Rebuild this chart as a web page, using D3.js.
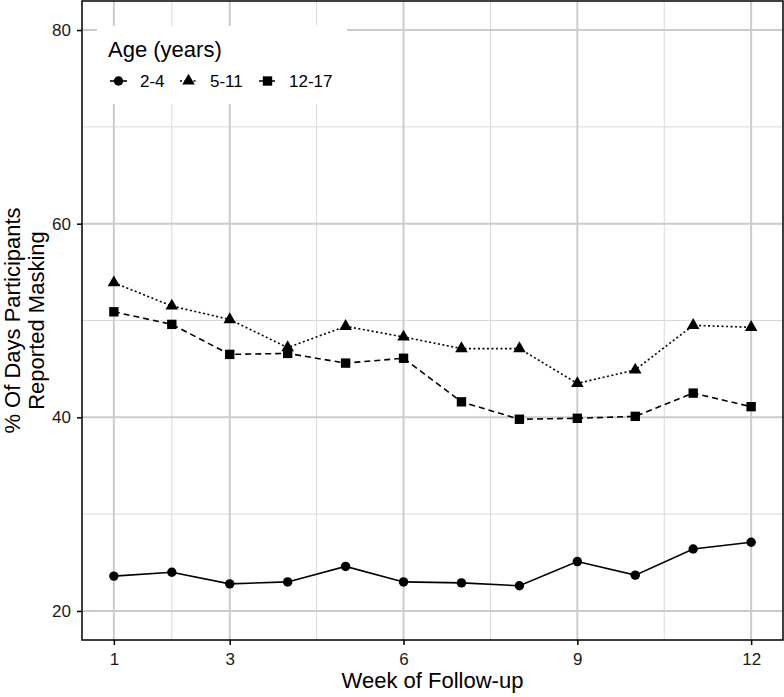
<!DOCTYPE html>
<html>
<head>
<meta charset="utf-8">
<script src="https://cdn.jsdelivr.net/npm/d3@7"></script>
<style>
  body { margin: 0; background: #fff; }
  text { font-family: "Liberation Sans", Arial, sans-serif; }
</style>
</head>
<body>
<div id="chart"></div>
<script>
const weeks = [1, 2, 3, 4, 5, 6, 7, 8, 9, 10, 11, 12];
const age2to4 = [23.6, 24.0, 22.8, 23.0, 24.6, 23.0, 22.9, 22.6, 25.1, 23.7, 26.4, 27.1];
const age5to11 = [53.9, 51.5, 50.1, 47.2, 49.4, 48.3, 47.1, 47.1, 43.5, 44.9, 49.5, 49.3];
const age12to17 = [50.9, 49.6, 46.5, 46.6, 45.6, 46.1, 41.6, 39.8, 39.9, 40.1, 42.5, 41.1];
const seriesNames = ["2-4", "5-11", "12-17"];
const xTicks = [1, 3, 6, 9, 12];
const xMinor = [2, 4.5, 7.5, 10.5];
const yTicks = [20, 40, 60, 80];
const yMinor = [30, 50, 70];

const width = 784, height = 697;
const margin = {top: 1, right: 1, bottom: 57, left: 82};
const w = width - margin.left - margin.right;
const h = height - margin.top - margin.bottom;

const svg = d3.select("#chart").append("svg")
  .attr("width", width)
  .attr("height", height);
const g = svg.append("g")
  .attr("transform", "translate(" + margin.left + "," + margin.top + ")");

const x = d3.scaleLinear().domain([0.45, 12.55]).range([0, w]);
const y = d3.scaleLinear().domain([17, 83]).range([h, 0]);

// grid lines
g.selectAll(".xminor").data(xMinor).enter().append("line")
  .attr("x1", d => x(d)).attr("x2", d => x(d)).attr("y1", 0).attr("y2", h)
  .attr("stroke", "#d9d9d9").attr("stroke-width", 1);
g.selectAll(".yminor").data(yMinor).enter().append("line")
  .attr("y1", d => y(d)).attr("y2", d => y(d)).attr("x1", 0).attr("x2", w)
  .attr("stroke", "#d9d9d9").attr("stroke-width", 1);
g.selectAll(".xmajor").data(xTicks).enter().append("line")
  .attr("x1", d => x(d)).attr("x2", d => x(d)).attr("y1", 0).attr("y2", h)
  .attr("stroke", "#cccccc").attr("stroke-width", 2);
g.selectAll(".ymajor").data(yTicks).enter().append("line")
  .attr("y1", d => y(d)).attr("y2", d => y(d)).attr("x1", 0).attr("x2", w)
  .attr("stroke", "#cccccc").attr("stroke-width", 2);

// legend background (covers grid)
g.append("rect")
  .attr("x", 15).attr("y", 25).attr("width", 250).attr("height", 78)
  .attr("fill", "#fff");

// series
const series = [
  {name: seriesNames[0], values: age2to4, dash: null, shape: d3.symbolCircle, size: 70},
  {name: seriesNames[1], values: age5to11, dash: "2,2.5", shape: d3.symbolTriangle, size: 68},
  {name: seriesNames[2], values: age12to17, dash: "6,4", shape: d3.symbolSquare, size: 88}
];

const line = d3.line().x((d, i) => x(weeks[i])).y(d => y(d));

series.forEach(s => {
  g.append("path")
    .attr("d", line(s.values))
    .attr("fill", "none")
    .attr("stroke", "#000")
    .attr("stroke-width", 1.6)
    .attr("stroke-dasharray", s.dash);
  g.selectAll(null).data(s.values).enter().append("path")
    .attr("d", d3.symbol().type(s.shape).size(s.size))
    .attr("transform", (d, i) => "translate(" + x(weeks[i]) + "," + y(d) + ")")
    .attr("fill", "#000");
});

// panel border
g.append("rect")
  .attr("x", 0).attr("y", 0).attr("width", w).attr("height", h)
  .attr("fill", "none").attr("stroke", "#000").attr("stroke-width", 1.5);

// axes
const xAxis = g.append("g")
  .attr("transform", "translate(0," + h + ")")
  .call(d3.axisBottom(x).tickValues(xTicks).tickSize(5).tickPadding(8));
const yAxis = g.append("g")
  .call(d3.axisLeft(y).tickValues(yTicks).tickSize(5).tickPadding(6));
[xAxis, yAxis].forEach(a => {
  a.select(".domain").remove();
  a.selectAll("line").attr("stroke", "#000").attr("stroke-width", 1.5);
  a.selectAll("text").attr("fill", "#1a1a1a").style("font-size", "17px")
    .style("font-family", "Liberation Sans, Arial, sans-serif");
});

// axis titles
g.append("text")
  .attr("x", w / 2).attr("y", h + 48)
  .attr("text-anchor", "middle")
  .style("font-size", "22px")
  .text("Week of Follow-up");

const yTitle = g.append("text")
  .attr("transform", "translate(" + (-62) + "," + (h / 2) + ") rotate(-90)")
  .attr("text-anchor", "middle")
  .style("font-size", "22px");
yTitle.append("tspan").attr("x", 0).attr("dy", 0).text("% Of Days Participants");
yTitle.append("tspan").attr("x", 0).attr("dy", 24).text("Reported Masking");

// legend
const leg = g.append("g").attr("transform", "translate(28,0)");
leg.append("text").attr("x", -2).attr("y", 56)
  .style("font-size", "22px").text("Age (years)");
const legX = [0, 70, 149];
series.forEach((s, i) => {
  const item = leg.append("g").attr("transform", "translate(" + legX[i] + ",80)");
  item.append("line").attr("x1", 0).attr("x2", 17).attr("y1", 0).attr("y2", 0)
    .attr("stroke", "#000").attr("stroke-width", 1.6).attr("stroke-dasharray", s.dash);
  item.append("path").attr("d", d3.symbol().type(s.shape).size(s.size)())
    .attr("transform", "translate(8.5,0)").attr("fill", "#000");
  item.append("text").attr("x", 30).attr("y", 6)
    .style("font-size", "17px").text(s.name);
});
</script>
</body>
</html>
